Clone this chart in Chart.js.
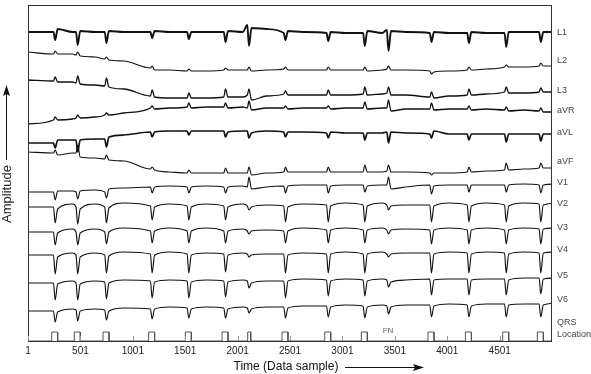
<!DOCTYPE html>
<html>
<head>
<meta charset="utf-8">
<script src="https://cdn.jsdelivr.net/npm/chart.js@4.4.1/dist/chart.umd.min.js"></script>
<style>
  html, body { margin: 0; padding: 0; background: #fff; }
</style>
</head>
<body>
<canvas id="ecgChart" width="591" height="374"></canvas>
<script>
// sample index of every QRS-like event seen in the traces (3436 is the missed one)
var events = [256, 471, 745, 1181, 1531, 1881, 2105, 2453, 2861, 3210, 3436, 3846, 4203, 4559, 4889];
var xTicks = [1, 501, 1001, 1501, 2001, 2501, 3001, 3501, 4001, 4501];

var leadNames = ['L1', 'L2', 'L3', 'aVR', 'aVL', 'aVF', 'V1', 'V2', 'V3', 'V4', 'V5', 'V6'];
var leadOffsets = [309, 279, 249, 229, 207, 177, 155, 135, 111, 87, 61, 35];
var labelLevels = [308, 280, 250, 230, 208, 179, 158, 137, 113, 91, 65, 41];
var leadStart = [0, 10, 12, -12, -9, 12, -6, -1, -2, -1, -3, -5];
var leadEnd = [0, -4, 0, 0, 0, -3, 2, 3, 2, 2, 2, 3];

// one row per event: [level before, spike, level after, T wave]
var leadL1 = [[0,-8,3,0],[0,-13,1,0],[0,-11,1,0],[0,-6,1,0],[0,-7,0,0],[0,-10,1,0],[7,-14,4,3],[-1,-8,1,0],[-1,-9,0,-1],[-1,-14,1,-1],[2,-19,1,0],[-1,-10,0,-1],[-1,-11,0,-1],[-1,-15,0,0],[0,-10,0,0]];
var leadL2 = [[8,11,8,8],[7,10,6,5],[3,5,2,1],[-6,-4,-8,-8],[-9,-7,-9,-9],[-8,-6,-8,-8],[-8,-5,-9,-8],[-7,-5,-8,-8],[-8,-5,-8,-8],[-8,-5,-9,-8],[-7,-4,-8,-8],[-9,-12,-10,-9],[-8,-5,-8,-7],[-5,-3,-5,-5],[-4,-1,-4,-4]];
var leadL3 = [[11,15,10,10],[9,16,8,7],[6,14,5,3],[-4,2,-5,-6],[-6,-1,-6,-6],[-5,3,-5,-5],[-3,3,-8,-4],[-2,1,-3,-3],[-3,2,-3,-3],[-2,5,-3,-2],[-1,5,-3,-3],[-5,0,-6,-4],[-3,3,-3,-2],[0,5,-1,-1],[0,4,0,0]];
var leadAVR = [[-8,-5,-8,-7],[-6,-3,-6,-5],[-3,-1,-3,-1],[4,6,3,4],[5,9,4,5],[5,9,4,5],[4,11,2,4],[4,6,3,4],[4,6,3,4],[4,10,3,4],[4,12,1,3],[3,9,2,3],[3,6,2,3],[2,5,1,2],[1,4,0,0]];
var leadAVL = [[-9,-14,-6,-6],[-6,-18,-6,-5],[-5,-13,-3,-1],[2,-3,2,3],[3,-1,3,3],[3,-3,2,3],[3,-4,1,3],[2,-3,2,2],[1,-4,2,1],[1,-6,1,1],[2,-9,2,1],[0,-4,3,0],[0,-6,0,0],[0,-8,0,0],[0,-7,0,0]];
var leadAVF = [[11,14,9,11],[11,19,7,6],[5,9,4,3],[-5,-3,-6,-8],[-9,-6,-9,-9],[-9,-4,-9,-9],[-9,-3,-11,-9],[-8,-3,-8,-8],[-8,-3,-8,-8],[-8,-1,-8,-8],[-7,-1,-8,-8],[-9,-11,-9,-9],[-8,-3,-8,-7],[-6,1,-6,-5],[-4,1,-4,-4]];
var leadV1 = [[-6,-14,-5,-5],[-6,-13,-5,-4],[-6,-12,-3,-2],[-1,-7,-1,0],[-1,-7,-1,0],[-1,-7,-1,0],[-1,9,-3,-1],[0,-7,0,1],[1,-7,0,1],[1,-6,0,1],[1,9,-3,-1],[1,-8,0,1],[1,-6,1,1],[1,-6,1,2],[1,-7,1,2]];
var leadV2 = [[-1,-17,-3,2],[-1,-18,-3,2],[-1,-17,-2,3],[0,-14,-1,2],[0,-14,-1,2],[0,-14,-1,2],[0,-4,-1,1],[0,-16,-1,2],[1,-16,0,3],[1,-16,0,3],[1,-4,0,1],[1,-16,0,3],[1,-16,0,3],[1,-16,0,3],[2,-16,1,3]];
var leadV3 = [[-2,-15,-3,1],[-2,-15,-3,1],[-2,-14,-2,2],[-1,-13,-1,2],[-1,-13,-1,2],[-1,-13,-1,1],[-1,-4,-1,0],[-1,-13,-1,2],[0,-13,0,2],[0,-13,0,2],[0,-4,0,1],[0,-14,0,2],[0,-14,0,2],[0,-14,0,2],[1,-14,1,2]];
var leadV4 = [[-1,-20,-3,1],[-1,-20,-3,1],[-1,-19,-2,2],[0,-19,-1,2],[0,-19,-1,1],[0,-18,-1,1],[0,-3,-1,0],[0,-19,-1,1],[0,-19,0,2],[0,-19,0,2],[0,-3,0,1],[1,-19,0,2],[1,-19,0,2],[1,-19,0,2],[1,-19,1,2]];
var leadV5 = [[-3,-20,-4,-1],[-3,-20,-4,-1],[-2,-19,-3,0],[-1,-18,-2,0],[-1,-18,-2,0],[-1,-17,-2,0],[-1,-8,-3,-1],[-1,-18,-1,1],[0,-16,-1,1],[0,-16,-1,1],[0,-7,-2,0],[1,-15,0,1],[1,-15,0,1],[1,-15,0,2],[2,-14,1,2]];
var leadV6 = [[-5,-16,-6,-3],[-4,-15,-5,-3],[-4,-14,-5,-2],[-3,-13,-3,-1],[-2,-12,-3,-1],[-2,-12,-3,-1],[-2,-7,-3,-1],[-1,-12,-2,0],[0,-11,-1,1],[0,-12,-1,1],[0,-8,-1,1],[1,-11,0,2],[1,-11,0,2],[2,-11,1,2],[2,-11,1,3]];

// detector output: pulse start / end (samples)
var qrsOn  = [227, 443, 717, 1152, 1502, 1852, 2097, 2424, 2832, 3181, 3817, 4174, 4530, 4860];
var qrsOff = [284, 500, 774, 1209, 1559, 1909, 2126, 2481, 2889, 3238, 3874, 4231, 4587, 4917];
var qrsLevel = 9;
var missedBeat = 3436;

var leads = [leadL1, leadL2, leadL3, leadAVR, leadAVL, leadAVF, leadV1, leadV2, leadV3, leadV4, leadV5, leadV6];

function buildTrace(idx) {
    var rows = leads[idx];
    var off = leadOffsets[idx];
    var pts = [{x: 1, y: off + leadStart[idx]}];
    rows.forEach(function(r, i) {
        var b = events[i];
        pts.push({x: b - 12, y: off + r[0]});
        pts.push({x: b + 4, y: off + r[1]});
        pts.push({x: b + 28, y: off + r[2]});
        pts.push({x: b + 170, y: off + r[3]});
    });
    pts.push({x: 5000, y: off + leadEnd[idx]});
    return pts;
}

function buildQrs() {
    var pts = [{x: 1, y: 0}];
    qrsOn.forEach(function(on, i) {
        pts.push({x: on, y: 0}, {x: on, y: qrsLevel}, {x: qrsOff[i], y: qrsLevel}, {x: qrsOff[i], y: 0});
    });
    pts.push({x: 5000, y: 0});
    return pts;
}

var thick = { L1: 1.9, aVL: 1.7, L3: 1.3, aVR: 1.3 };
var datasets = leadNames.map(function(name, i) {
    return {
        label: name,
        data: buildTrace(i),
        borderColor: '#111',
        borderWidth: thick[name] || 1.15,
        pointRadius: 0,
        cubicInterpolationMode: 'monotone',
        fill: false
    };
});
datasets.push({
    label: 'QRS Location',
    data: buildQrs(),
    borderColor: '#555',
    borderWidth: 1,
    pointRadius: 0,
    tension: 0,
    fill: false
});

var FONT = '"Liberation Sans", Arial, sans-serif';

var decorations = {
    id: 'decorations',
    afterDatasetsDraw: function(chart) {
        var ctx = chart.ctx;
        var a = chart.chartArea;
        var xs = chart.scales.x;
        var ys = chart.scales.y;
        ctx.save();

        // frame
        ctx.strokeStyle = '#333';
        ctx.lineWidth = 1;
        ctx.strokeRect(a.left + 0.5, a.top + 0.5, a.right - a.left - 1, a.bottom - a.top);

        // inward ticks
        ctx.strokeStyle = '#999';
        xTicks.forEach(function(v) {
            var px = Math.round(xs.getPixelForValue(v)) + 0.5;
            ctx.beginPath();
            ctx.moveTo(px, a.bottom);
            ctx.lineTo(px, a.bottom - 5);
            ctx.stroke();
        });

        // lead names
        ctx.fillStyle = '#444';
        ctx.font = '9px ' + FONT;
        ctx.textAlign = 'left';
        ctx.textBaseline = 'middle';
        leadNames.forEach(function(n, i) {
            ctx.fillText(n, a.right + 5, ys.getPixelForValue(labelLevels[i]));
        });
        ctx.fillText('QRS', a.right + 5, ys.getPixelForValue(18));
        ctx.fillText('Location', a.right + 5, ys.getPixelForValue(6));

        // missed beat marker
        ctx.fillStyle = '#666';
        ctx.font = '8px ' + FONT;
        ctx.textAlign = 'center';
        ctx.fillText('FN', xs.getPixelForValue(missedBeat), ys.getPixelForValue(10));

        // x title with arrow
        ctx.fillStyle = '#111';
        ctx.font = '12px ' + FONT;
        ctx.textAlign = 'center';
        ctx.fillText('Time (Data sample)', 286, 367);
        ctx.strokeStyle = '#111';
        ctx.beginPath();
        ctx.moveTo(345, 367.5);
        ctx.lineTo(418, 367.5);
        ctx.stroke();
        ctx.beginPath();
        ctx.moveTo(424, 367.5);
        ctx.lineTo(413, 364);
        ctx.lineTo(415, 367.5);
        ctx.lineTo(413, 371);
        ctx.closePath();
        ctx.fill();

        // y title with arrow
        ctx.save();
        ctx.translate(7, 194);
        ctx.rotate(-Math.PI / 2);
        ctx.font = '13px ' + FONT;
        ctx.fillStyle = '#222';
        ctx.fillText('Amplitude', 0, 0);
        ctx.restore();
        ctx.beginPath();
        ctx.moveTo(6.5, 160);
        ctx.lineTo(6.5, 92);
        ctx.stroke();
        ctx.beginPath();
        ctx.moveTo(6.5, 85);
        ctx.lineTo(3, 96);
        ctx.lineTo(6.5, 94);
        ctx.lineTo(10, 96);
        ctx.closePath();
        ctx.fill();

        ctx.restore();
    }
};

new Chart(document.getElementById('ecgChart').getContext('2d'), {
    type: 'line',
    data: { datasets: datasets },
    options: {
        responsive: false,
        animation: false,
        devicePixelRatio: 1,
        layout: { padding: { left: 28, right: 39, top: 5, bottom: 0 } },
        plugins: { legend: { display: false }, tooltip: { enabled: false } },
        scales: {
            x: {
                type: 'linear',
                min: 1,
                max: 5000,
                afterBuildTicks: function(s) {
                    s.ticks = xTicks.map(function(v) { return { value: v }; });
                },
                afterFit: function(s) { s.height = 33; },
                ticks: {
                    autoSkip: false,
                    maxRotation: 0,
                    padding: 4,
                    color: '#222',
                    font: { size: 10, family: FONT },
                    callback: function(v) { return String(v); }
                },
                grid: { display: false, drawTicks: false },
                border: { display: false }
            },
            y: {
                display: false,
                min: 0,
                max: 336
            }
        }
    },
    plugins: [decorations]
});
</script>
</body>
</html>
